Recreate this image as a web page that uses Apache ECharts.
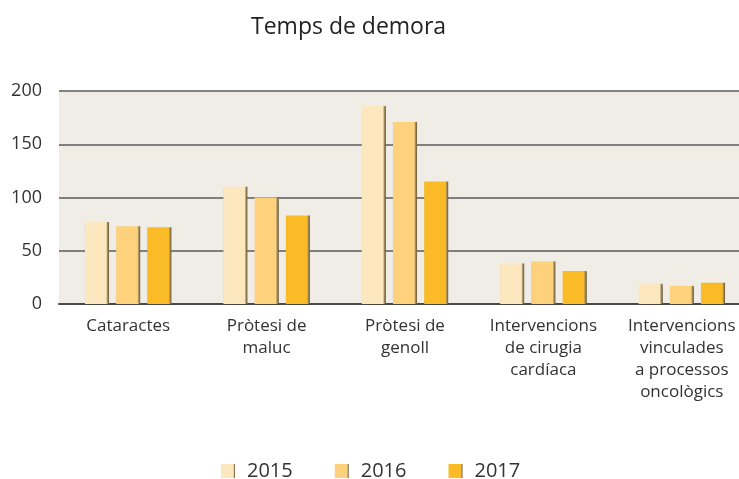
<!DOCTYPE html>
<html>
<head>
<meta charset="utf-8">
<script src="https://cdn.jsdelivr.net/npm/echarts@6/dist/echarts.min.js"></script>
<style>
  html, body { margin: 0; padding: 0; background: #fff; }
  #chart { width: 739px; height: 479px; }
</style>
</head>
<body>
<div id="chart"></div>
<script>
// categories (x axis)
var categories = [
    'Cataractes',
    'Pròtesi de\nmaluc',
    'Pròtesi de\ngenoll',
    'Intervencions\nde cirugia\ncardíaca',
    'Intervencions\nvinculades\na processos\noncològics'
];

// series values
var years = ['2015', '2016', '2017'];
var data2015 = [77, 110, 186, 38, 19];
var data2016 = [73, 100, 171, 40, 17];
var data2017 = [72, 83, 115, 31, 20];

var yTicks = [0, 50, 100, 150, 200];

var barColors = ['#fde7bf', '#fed27d', '#fbbb27'];

var chart = echarts.init(document.getElementById('chart'));

// one bar series, dark bevel on right side
function makeSeries(name, values, color) {
    return {
        name: name,
        type: 'bar',
        data: values,
        barWidth: 24,
        barGap: '30%',
        itemStyle: {
            color: new echarts.graphic.LinearGradient(0, 0, 1, 0, [
                { offset: 0, color: color },
                { offset: 0.88, color: color },
                { offset: 0.94, color: '#a08a5c' },
                { offset: 1, color: '#6a5836' }
            ]),
            shadowColor: 'rgba(70,55,25,0.35)',
            shadowBlur: 1,
            shadowOffsetX: 0,
            shadowOffsetY: 1
        }
    };
}

var option = {
    animation: false,
    title: {
        text: 'Temps de demora',
        left: 246,
        top: 11,
        textStyle: {
            fontFamily: 'Open Sans',
            fontSize: 23,
            fontWeight: 'normal',
            color: '#222'
        }
    },
    legend: {
        data: years,
        top: 456,
        left: 216,
        icon: 'rect',
        itemWidth: 14,
        itemHeight: 14,
        itemGap: 42,
        textStyle: {
            fontFamily: 'Open Sans',
            fontSize: 20,
            color: '#333',
            padding: [0, 0, 0, 7]
        }
    },
    grid: {
        left: 59,
        width: 692,
        top: 91,
        bottom: 175,
        outerBoundsMode: 'none',
        show: true,
        backgroundColor: '#efede6',
        borderWidth: 0
    },
    xAxis: {
        type: 'category',
        data: categories,
        axisTick: { show: false },
        axisLine: { lineStyle: { color: '#4a4a4a', width: 2 } },
        axisLabel: {
            interval: 0,
            margin: 11,
            fontFamily: 'Open Sans',
            fontSize: 17,
            lineHeight: 22,
            color: '#333'
        }
    },
    yAxis: {
        type: 'value',
        min: yTicks[0],
        max: yTicks[yTicks.length - 1],
        interval: 50,
        axisLine: { show: false },
        axisTick: { show: false },
        axisLabel: {
            margin: 17,
            fontFamily: 'Open Sans',
            fontSize: 18,
            color: '#333'
        },
        splitLine: { lineStyle: { color: '#5a5a5a', width: 1.5 } }
    },
    series: [
        makeSeries(years[0], data2015, barColors[0]),
        makeSeries(years[1], data2016, barColors[1]),
        makeSeries(years[2], data2017, barColors[2])
    ]
};

chart.setOption(option);
</script>
</body>
</html>
